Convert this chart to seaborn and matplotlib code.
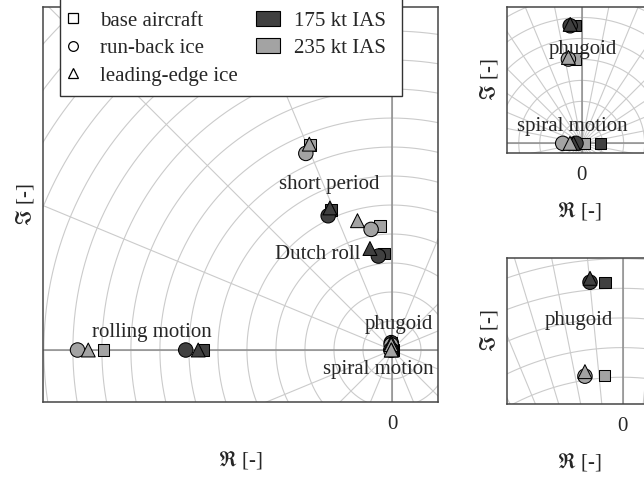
import numpy as np
import pandas as pd
import matplotlib
matplotlib.use("Agg")
import matplotlib.pyplot as plt
import seaborn as sns
from matplotlib.lines import Line2D
from matplotlib.patches import Patch, Rectangle

# ---------------- data (eigenvalues, upper half plane) ----------------
configs = ["base aircraft", "run-back ice", "leading-edge ice"]
speeds = ["175 kt IAS", "235 kt IAS"]

short_period_re_175 = [-2.10, -2.20, -2.14]
short_period_im_175 = [4.83, 4.63, 4.90]
short_period_re_235 = [-2.83, -2.97, -2.85]
short_period_im_235 = [7.07, 6.78, 7.10]

dutch_roll_re_175 = [-0.28, -0.47, -0.76]
dutch_roll_im_175 = [3.33, 3.24, 3.50]
dutch_roll_re_235 = [-0.41, -0.72, -1.19]
dutch_roll_im_235 = [4.28, 4.16, 4.46]

rolling_re_175 = [-6.50, -7.11, -6.68]
rolling_im_175 = [0.0, 0.0, 0.0]
rolling_re_235 = [-9.95, -10.84, -10.47]
rolling_im_235 = [0.0, 0.0, 0.0]

phugoid_re_175 = [-0.0135, -0.0250, -0.0250]
phugoid_im_175 = [0.2555, 0.2555, 0.2585]
phugoid_re_235 = [-0.0140, -0.0289, -0.0289]
phugoid_im_235 = [0.1836, 0.1832, 0.1867]

spiral_re_175 = [0.0413, -0.0124, -0.0180]
spiral_im_175 = [0.0, 0.0, 0.0]
spiral_re_235 = [0.0057, -0.0413, -0.0254]
spiral_im_235 = [0.0, 0.0, 0.0]

modes = {
    "short period": [(short_period_re_175, short_period_im_175), (short_period_re_235, short_period_im_235)],
    "Dutch roll": [(dutch_roll_re_175, dutch_roll_im_175), (dutch_roll_re_235, dutch_roll_im_235)],
    "rolling motion": [(rolling_re_175, rolling_im_175), (rolling_re_235, rolling_im_235)],
    "phugoid": [(phugoid_re_175, phugoid_im_175), (phugoid_re_235, phugoid_im_235)],
    "spiral motion": [(spiral_re_175, spiral_im_175), (spiral_re_235, spiral_im_235)],
}

rows = []
for ci, cfg in enumerate(configs):          # squares first, then circles, then triangles
    for mode, pair in modes.items():
        for si, spd in enumerate(speeds):
            re, im = pair[si]
            rows.append(dict(mode=mode, config=cfg, speed=spd, re=re[ci], im=im[ci]))
df = pd.DataFrame(rows)

# ---------------- styling ----------------
sns.set_theme(style="white")
plt.rcParams["font.family"] = ["Liberation Serif", "DejaVu Serif"]
plt.rcParams["mathtext.fontset"] = "stix"

dark = "#404040"
light = "#a3a3a3"
palette = {"175 kt IAS": dark, "235 kt IAS": light}
markers = {"base aircraft": "s", "run-back ice": "o", "leading-edge ice": "^"}
sizes = {"base aircraft": 66, "run-back ice": 108, "leading-edge ice": 100}
FS = 15

W, H = 644, 479
fig = plt.figure(figsize=(W / 100, H / 100), dpi=100)


def px_axes(left, top, right, bottom):
    return fig.add_axes([left / W, (H - bottom) / H, (right - left) / W, (bottom - top) / H])


def polar_grid(ax, step, nrings, dtheta, rmax):
    t = np.linspace(0, 2 * np.pi, 2000)
    for k in range(1, nrings + 1):
        ax.plot(k * step * np.cos(t), k * step * np.sin(t), color="#cbcbcb", lw=0.8, zorder=0.5)
    for ang in np.arange(0, 360, dtheta):
        a = np.deg2rad(ang)
        ax.plot([0, rmax * np.cos(a)], [0, rmax * np.sin(a)], color="#cbcbcb", lw=0.8, zorder=0.5)
    ax.axhline(0, color="#8c8c8c", lw=1.1, zorder=0.7)
    ax.axvline(0, color="#8c8c8c", lw=1.1, zorder=0.7)


def style_axes(ax, xlim, ylim):
    ax.set_xlim(*xlim)
    ax.set_ylim(*ylim)
    ax.set_xticks([0])
    ax.set_xticklabels(["0"], fontsize=FS)
    ax.set_yticks([])
    ax.tick_params(axis="x", length=0, pad=9.5)
    for s in ax.spines.values():
        s.set_color("#454545")
        s.set_linewidth(1.1)
        s.set_zorder(5)
    ax.set_xlabel(r"$\mathfrak{R}$ [-]", fontsize=FS, labelpad=11)
    ax.set_ylabel(r"$\mathfrak{I}$ [-]", fontsize=FS, labelpad=5)


def draw_points(ax):
    sns.scatterplot(data=df, x="re", y="im", hue="speed", style="config", size="config",
                    palette=palette, markers=markers, sizes=sizes, edgecolor="black",
                    linewidth=0.75, legend=False, ax=ax, zorder=3, clip_on=True)


# ---------------- main panel ----------------
ax_main = px_axes(43, 7, 438, 402)
polar_grid(ax_main, 1.0, 16, 22.5, 30)
draw_points(ax_main)
style_axes(ax_main, (-12.03, 1.586), (-1.793, 11.83))
for txt, (x, y) in {"rolling motion": (-8.28, 0.62), "short period": (-2.17, 5.72),
                    "Dutch roll": (-2.55, 3.31), "phugoid": (0.24, 0.88),
                    "spiral motion": (-0.48, -0.66)}.items():
    ax_main.text(x, y, txt, fontsize=FS, ha="center", va="center", zorder=4)

# ---------------- top-right zoom ----------------
ax_tr = px_axes(506.7, 7.3, 652, 152.7)
polar_grid(ax_tr, 0.0456, 12, 11.25, 2)
draw_points(ax_tr)
style_axes(ax_tr, (-0.163, 0.1528), (-0.0204, 0.2957))
ax_tr.text(0.0019, 0.205, "phugoid", fontsize=FS, ha="center", va="center", zorder=4)
ax_tr.text(-0.021, 0.036, "spiral motion", fontsize=FS, ha="center", va="center", zorder=4)

# ---------------- bottom-right zoom ----------------
ax_br = px_axes(506.7, 258.3, 652.4, 404)
polar_grid(ax_br, 0.0228, 16, 5.625, 2)
draw_points(ax_br)
style_axes(ax_br, (-0.0891, 0.0230), (0.1618, 0.2739))
ax_br.text(-0.0335, 0.226, "phugoid", fontsize=FS, ha="center", va="center", zorder=4)

# ---------------- legend ----------------
frame = Rectangle((60 / W, (H - 96) / H), (402 - 60) / W, 110 / H, transform=fig.transFigure,
                  facecolor="white", edgecolor="#333333", lw=1.0, zorder=4)
fig.add_artist(frame)

handles = [
    Line2D([], [], ls="", marker="s", ms=6.5, mfc="white", mec="black", mew=0.9),
    Line2D([], [], ls="", marker="o", ms=7, mfc="white", mec="black", mew=0.9),
    Line2D([], [], ls="", marker="^", ms=7, mfc="white", mec="black", mew=0.9),
    Patch(facecolor=dark, edgecolor="black", lw=0.8),
    Patch(facecolor=light, edgecolor="black", lw=0.8),
]
labels = configs + speeds
leg = fig.legend(handles, labels, ncol=2, loc="lower left",
                 bbox_to_anchor=(61 / W, (H - 85.5) / H), bbox_transform=fig.transFigure,
                 fontsize=FS, frameon=False, borderpad=0, labelspacing=0.38,
                 handlelength=1.15, handletextpad=0.7, columnspacing=0.88,
                 borderaxespad=0)
leg.set_zorder(6)

fig.savefig("out.png", dpi=100)
